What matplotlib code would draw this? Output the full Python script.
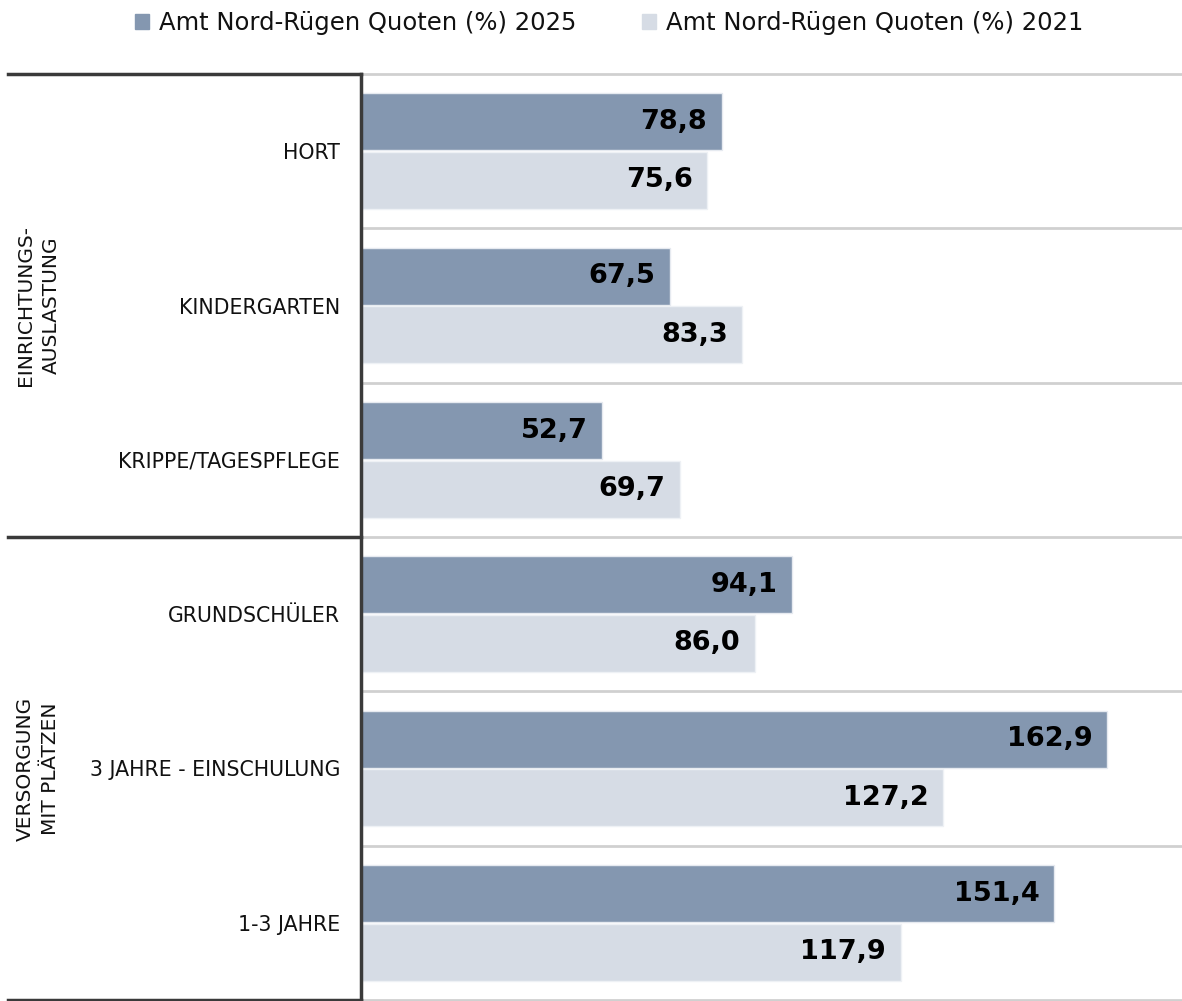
import matplotlib
matplotlib.use("Agg")
import matplotlib.pyplot as plt
import matplotlib.patches as patches
import numpy as np

categories = ["HORT", "KINDERGARTEN", "KRIPPE/TAGESPFLEGE",
              "GRUNDSCHÜLER", "3 JAHRE - EINSCHULUNG", "1-3 JAHRE"]
quote_2025 = [78.8, 67.5, 52.7, 94.1, 162.9, 151.4]
quote_2021 = [75.6, 83.3, 69.7, 86.0, 127.2, 117.9]
groups = ["EINRICHTUNGS-\nAUSLASTUNG", "VERSORGUNG\nMIT PLÄTZEN"]
group_sizes = [3, 3]
series_names = ["Amt Nord-Rügen Quoten (%) 2025", "Amt Nord-Rügen Quoten (%) 2021"]

col_dark = "#8497b0"
col_light = "#d6dce5"
txt_col = "#111111"

fig = plt.figure(figsize=(11.82, 10.01), dpi=100)
ax = fig.add_axes([361 / 1182, 1 / 1001, 821 / 1182, 926 / 1001])

y = np.arange(len(categories))
bh = 0.37
off = 0.19
b1 = ax.barh(y - off, quote_2025, height=bh, color=col_dark, edgecolor="#e6eaf0", linewidth=1, zorder=3)
b2 = ax.barh(y + off, quote_2021, height=bh, color=col_light, edgecolor="#eef1f5", linewidth=1, zorder=3)

for bars, vals in [(b1, quote_2025), (b2, quote_2021)]:
    for bar, v in zip(bars, vals):
        ax.text(bar.get_width() - 3.2, bar.get_y() + bar.get_height() / 2,
                f"{v:.1f}".replace(".", ","), ha="right", va="center",
                fontsize=19.5, fontweight="bold", color="black", zorder=4)

ax.set_xlim(0, 179.3)
ax.set_ylim(len(categories) - 0.5, -0.5)
ax.set_xticks([])
ax.set_yticks(y)
ax.set_yticklabels(categories, fontsize=14.8, color=txt_col)
ax.tick_params(axis="y", length=0, pad=15)

for s in ["top", "right", "bottom"]:
    ax.spines[s].set_visible(False)
ax.spines["left"].set_color("#3a3a3a")
ax.spines["left"].set_linewidth(2.5)
ax.spines["left"].set_zorder(5)

# light row separators in the plot area
for b in np.arange(-0.5, len(categories), 1.0):
    ax.axhline(b, color="#d0d0d0", linewidth=2, zorder=1, clip_on=False)

# dark group separators in the label area + group labels
ytr = ax.get_yaxis_transform()
x_left = (8 - 361) / 821
start = -0.5
ax.plot([x_left, 0], [start, start], color="#3a3a3a", lw=2.5, transform=ytr, clip_on=False)
for name, n in zip(groups, group_sizes):
    end = start + n
    ax.plot([x_left, 0], [end, end], color="#3a3a3a", lw=2.5, transform=ytr, clip_on=False)
    ax.text((38 - 361) / 821, (start + end) / 2, name, transform=ytr, rotation=90,
            ha="center", va="center", multialignment="center",
            fontsize=14.5, color=txt_col, linespacing=1.45)
    start = end

handles = [patches.Patch(color=col_dark, label=series_names[0]),
           patches.Patch(color=col_light, label=series_names[1])]
fig.legend(handles=handles, loc="center", bbox_to_anchor=(609 / 1182, 1 - 23 / 1001),
           ncol=2, frameon=False, prop={"size": 17.5},
           handlelength=0.58, handleheight=0.58, handletextpad=0.42, columnspacing=2.7,
           labelcolor=txt_col)

fig.savefig("out.png", dpi=100, facecolor="white")
